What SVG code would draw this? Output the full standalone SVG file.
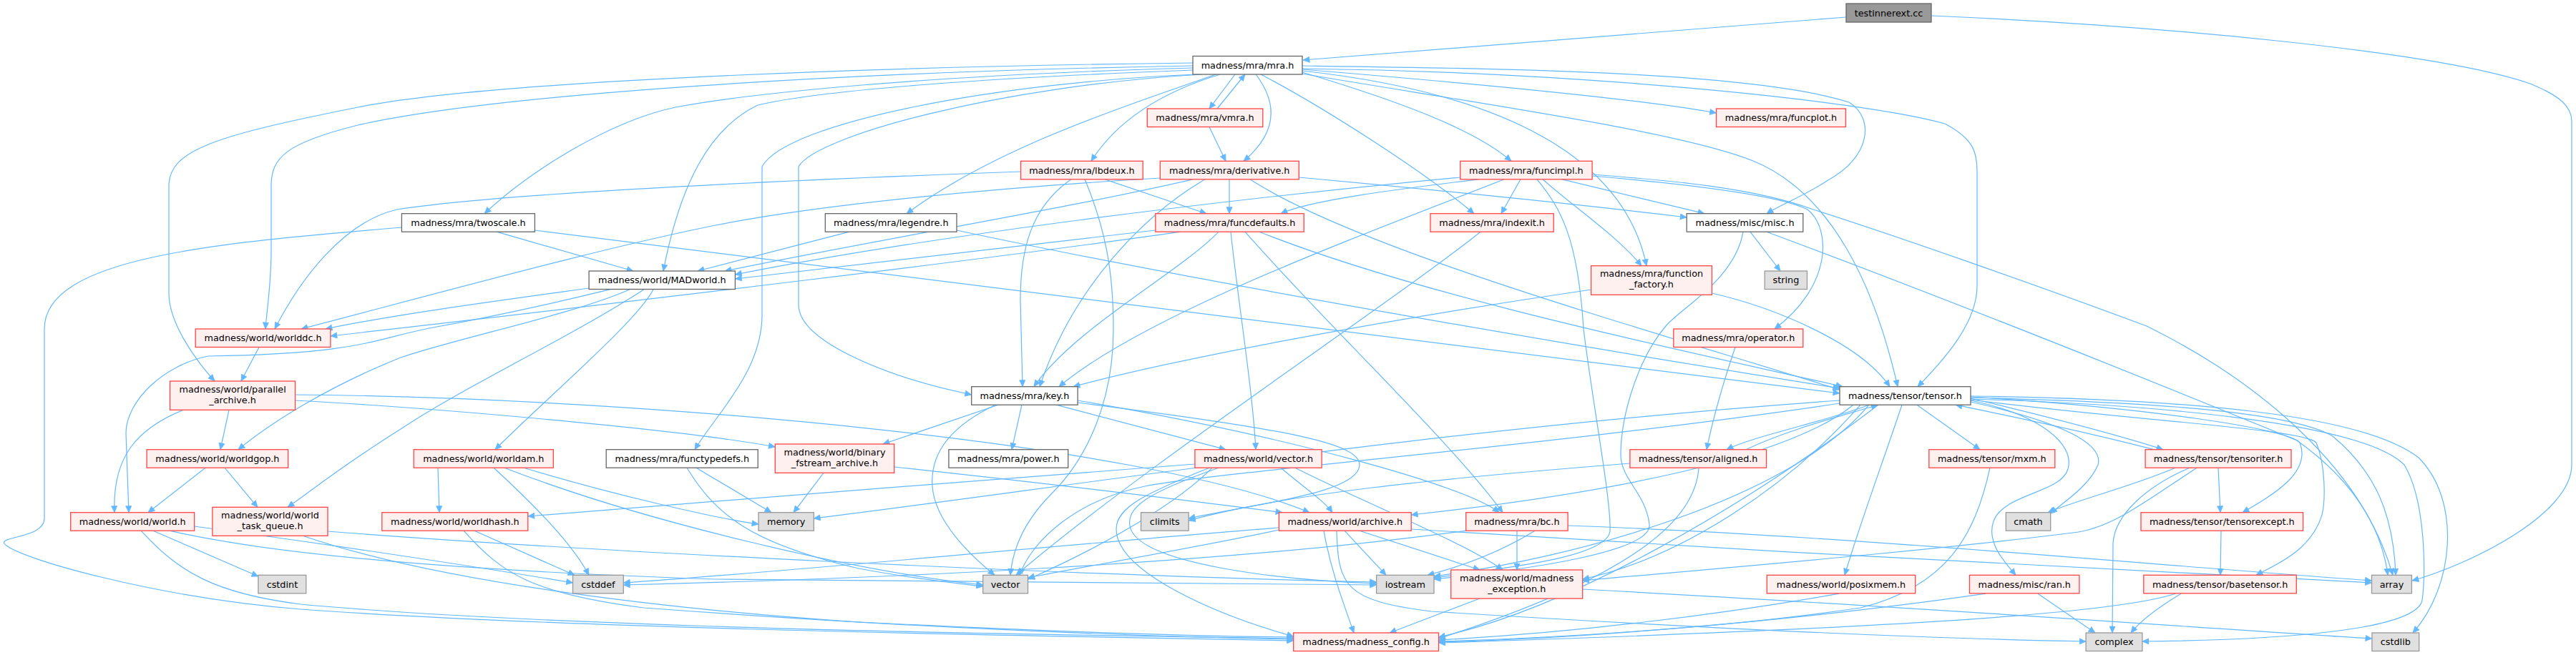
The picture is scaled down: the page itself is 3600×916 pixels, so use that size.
<svg xmlns="http://www.w3.org/2000/svg" width="3600" height="916" viewBox="0 0 3600 916">
<style>
rect{stroke-width:1.3}
.w rect{fill:#fff;stroke:#666}
.r rect{fill:#fff0f0;stroke:#f44}
.g rect{fill:#e0e0e0;stroke:#999}
.k rect{fill:#999;stroke:#666}
text{font-family:"DejaVu Sans",sans-serif;font-size:12.8px;text-anchor:middle;fill:#000}
#edges path{fill:none;stroke:#63b8ff;stroke-width:1.2;marker-end:url(#ah)}
</style>
<defs>
<marker id="ah" viewBox="0 0 10 10" refX="10" refY="5" markerWidth="10" markerHeight="9" markerUnits="userSpaceOnUse" orient="auto"><path d="M0,0.5 L10,5 L0,9.5 z" fill="#63b8ff" stroke="#63b8ff" stroke-width="0.8"/></marker>
</defs>
<rect width="3600" height="916" fill="#fff"/>
<g id="edges">
<path d="M2580,24 L1821,84"/>
<path d="M2699,22 C3000,35 3400,70 3536,117 C3580,135 3594,150 3594,170 L3594,650 C3594,720 3450,790 3371,812"/>
<path d="M1667,88 C1300,92 700,110 500,150 C300,190 236,210 236,260 L236,410 C236,450 270,500 300,533"/>
<path d="M1667,92 C1200,100 700,130 500,175 C400,200 379,220 379,260 L379,350 C379,400 372,440 371,460"/>
<path d="M1667,95 C1300,105 1050,130 944,150 C850,170 740,240 677,298.7"/>
<path d="M1667,98 C1400,108 1150,125 1059,147 C990,180 950,260 927,379"/>
<path d="M1672,104 C1400,115 1100,170 1065,233 L1065,440 C1065,520 1000,580 971,628.7"/>
<path d="M1680,104 C1400,120 1140,190 1116,233 L1116,426 C1116,480 1250,530 1357.7,552"/>
<path d="M1699,104 C1600,140 1400,200 1267,298.7"/>
<path d="M1705,104 C1620,130 1560,170 1525,225.3"/>
<path d="M1726,104 L1690,152"/>
<path d="M1701,152 L1740,104"/>
<path d="M1755,104 C1790,150 1780,190 1738,225.3"/>
<path d="M1690,177.5 L1713,225.3"/>
<path d="M1762,104 C1850,150 1990,240 2060,298.7"/>
<path d="M1820,101 C1950,140 2060,180 2112,225.3"/>
<path d="M1820,99 C2100,130 2270,220 2301,371.7"/>
<path d="M1820,92 C2100,96 2450,100 2584,143 C2620,165 2615,220 2553,253 C2520,275 2490,285 2469,298.7"/>
<path d="M1820,96 C2200,100 2600,140 2718,173 C2760,195 2763,215 2763,240 L2763,400 C2763,450 2720,500 2680,540.7"/>
<path d="M1820,97 C2100,120 2300,140 2398.5,158"/>
<path d="M1819,103 C2100,150 2350,185 2450,225 C2560,270 2620,400 2652,540.7"/>
<path d="M2225,246 C2330,255 2480,270 2526,293 C2560,320 2560,400 2480,460"/>
<path d="M2225,244 C2330,252 2450,262 2534,293 C2650,330 2850,400 3000,456 C3150,530 3300,650 3344,804.3"/>
<path d="M1426.5,240 C1100,252 700,270 555,293 C480,310 420,390 384,460"/>
<path d="M1497,250.8 C1440,290 1426,350 1426,420 L1429,540.7"/>
<path d="M1516,250.8 C1545,320 1556,380 1556,460 C1556,560 1520,640 1470,690 C1430,730 1415,770 1412,804.3"/>
<path d="M1544,250.8 L1686,298.7"/>
<path d="M1621.3,249 C1400,262 1150,285 1000,315 C850,345 650,400 421,460"/>
<path d="M1667,250.8 C1500,290 1200,340 1013,379"/>
<path d="M1684,250.8 C1600,300 1500,400 1453,540.7"/>
<path d="M1718,250.8 L1718,298.7"/>
<path d="M1747,250.8 C1900,350 2300,460 2571,545"/>
<path d="M1815.3,248 C2000,265 2200,285 2357.2,304"/>
<path d="M2040.7,248 C1700,280 1300,330 1027.4,384"/>
<path d="M2066,250.8 C1950,265 1830,280 1790,298.7"/>
<path d="M2102,250.8 C1900,330 1600,440 1480,540.7"/>
<path d="M2125,250.8 L2098,298.7"/>
<path d="M2148,250.8 C2180,290 2205,330 2213,460 C2225,560 2252,700 2250,743 C2245,780 2100,795 2004,808"/>
<path d="M2156,250.8 C2200,290 2260,330 2294,371.7"/>
<path d="M2183,250.8 L2382,298.7"/>
<path d="M694,324.2 L885,379"/>
<path d="M747.3,322 C1200,380 1800,450 2571,550"/>
<path d="M561.4,318 C300,340 62,360 62,460 L62,725 C62,752 0,750 6,760 C20,780 220,836 420,852 C800,880 1500,890 1807.7,896"/>
<path d="M1187,324.2 L975,379"/>
<path d="M1337,322 C1700,400 2300,500 2571,543"/>
<path d="M1614.8,322 C1400,345 1200,370 1027.4,390"/>
<path d="M1650,324.2 C1400,360 900,420 461.9,470"/>
<path d="M1703,324.2 C1650,380 1500,460 1445,540.7"/>
<path d="M1720,324.2 C1730,420 1750,540 1755,628.7"/>
<path d="M1740,324.2 C1850,450 2030,620 2100,716.7"/>
<path d="M1760,324.2 C2000,420 2400,500 2575,540.7"/>
<path d="M2069,324.2 C1950,420 1600,650 1420,804.3"/>
<path d="M2446,324.2 L2488,379"/>
<path d="M2436,324.2 C2425,390 2350,430 2328,456 C2290,500 2265,580 2265,636 C2265,670 2300,690 2305,733 C2310,770 2150,795 2004,810"/>
<path d="M2469,324.2 C2700,410 3000,530 3210,616 C3300,680 3330,750 3337,804.3"/>
<path d="M2223.6,405 C1950,445 1650,500 1500,540.7"/>
<path d="M2392.4,410 C2480,430 2600,480 2641,540.7"/>
<path d="M823.1,403 C700,420 550,440 455,460"/>
<path d="M853,404.7 C750,430 650,450 600,459 C520,475 500,495 291,498 C230,510 176,560 176,606 L180,716.7"/>
<path d="M880,404.7 C800,440 650,470 560,500 C460,540 380,590 333,628.7"/>
<path d="M913,404.7 C890,450 760,560 692,628.7"/>
<path d="M900,404.7 C800,470 650,540 560,600 C480,650 430,690 402,709.3"/>
<path d="M362,485.5 L337,533"/>
<path d="M320,573.3 L308,628.7"/>
<path d="M256,573.3 C190,600 157,640 160,716.7"/>
<path d="M412.5,560 C600,570 950,600 1083.3,625"/>
<path d="M412.5,552 C900,556 1600,620 1830,716.7"/>
<path d="M287,654.2 L207,716.7"/>
<path d="M314,654.2 L360,709.3"/>
<path d="M214,742.2 L360.9,806"/>
<path d="M197,742.2 C250,800 300,830 420,845 C800,880 1500,888 1807.7,893"/>
<path d="M237,742.2 C400,780 700,800 1000,810 C1400,815 1700,818 1923.6,818"/>
<path d="M271.7,736 C450,760 650,790 800.5,815"/>
<path d="M423,749.3 C600,810 900,850 1200,870 C1500,885 1700,890 1807.7,891"/>
<path d="M458,743 C800,770 1500,805 1923.6,814"/>
<path d="M612,654.2 L614,716.7"/>
<path d="M690,654.2 C740,700 800,760 823,804.3"/>
<path d="M732,654.2 C850,690 1000,725 1060,733"/>
<path d="M705,654.2 C900,730 1200,800 1373.7,818"/>
<path d="M663,742.2 L803,804.3"/>
<path d="M648,742.2 C700,800 740,830 900,850 C1300,880 1600,890 1807.7,894"/>
<path d="M973,654.2 L1078,716.7"/>
<path d="M960,654.2 C1000,720 1050,760 1200,795 C1280,810 1330,815 1373.7,820"/>
<path d="M1151,661.3 L1109,716.7"/>
<path d="M1249.7,653 C1500,680 1700,705 1792,716.7"/>
<path d="M1395,566.2 L1234,621"/>
<path d="M1391,566.2 C1320,600 1300,640 1303,680 C1306,730 1360,780 1390,804.3"/>
<path d="M1428,566.2 L1414,628.7"/>
<path d="M1476,566.2 L1713,628.7"/>
<path d="M1506,560 C1800,610 2050,680 2095,716.7"/>
<path d="M1506,563 C1800,600 1900,620 1900,650 C1900,690 1750,705 1661.1,725"/>
<path d="M1669.9,649 C1400,670 1000,700 737.8,722"/>
<path d="M1694,654.2 C1650,700 1550,760 1437,810"/>
<path d="M1790,654.2 C1820,680 1850,700 1862,716.7"/>
<path d="M1690,654.2 C1600,690 1560,710 1560,740 C1560,800 1700,860 1807.7,890"/>
<path d="M1703,654.2 C1600,690 1575,710 1579,736 C1590,790 1800,812 1923.6,816"/>
<path d="M1810,654.2 C1900,700 2050,760 2100,797"/>
<path d="M2440,628.7 C2500,600 2580,580 2624,566.2"/>
<path d="M2612,566.2 C2550,590 2450,610 2413,628.7"/>
<path d="M2374,654.2 C2370,720 2300,800 2010.5,893"/>
<path d="M2277.9,648 C2000,670 1800,690 1661.1,728"/>
<path d="M2781,654.2 C2760,750 2720,820 2600,850 C2400,880 2150,893 2010.5,897"/>
<path d="M3100,654.2 L3103,716.7"/>
<path d="M3010,628.7 C2900,600 2800,580 2733,566.2"/>
<path d="M3060,654.2 C3000,680 2955,720 2953,760 L2952,885"/>
<path d="M3040,654.2 C2980,680 2900,700 2862,716.7"/>
<path d="M3070,654.2 C3000,700 2950,740 2897,745 C2700,770 2400,795 2211.7,812"/>
<path d="M3104,742.2 L3103,804.3"/>
<path d="M2679,566.2 L2767,628.7"/>
<path d="M2658,566.2 C2630,650 2600,730 2578,804.3"/>
<path d="M2754,560 C2850,580 2900,620 2890,656 C2880,690 2800,690 2786,729 C2775,760 2805,790 2817,804.3"/>
<path d="M2754,562 C2880,590 2940,620 2932,650 C2920,680 2880,705 2865.7,718"/>
<path d="M2754,557 C2850,580 2950,605 3023,628.7"/>
<path d="M2754,555 C3000,570 3200,600 3214,619 C3230,660 3180,690 3134,716.7"/>
<path d="M2754,559 C3000,590 3220,600 3237,619 C3250,650 3250,700 3245,720 C3230,770 3180,790 3153,804.3"/>
<path d="M2754,556 C3000,562 3200,575 3260,610 C3320,660 3345,720 3348,804.3"/>
<path d="M2754,554 C3050,558 3300,578 3380,640 C3440,700 3430,820 3372,885"/>
<path d="M2754,558 C3000,565 3300,590 3360,650 C3390,700 3390,800 3385,840 C3375,880 3200,895 2993.9,897"/>
<path d="M2590,566.2 C2500,640 2250,690 1972.2,720"/>
<path d="M2612,566.2 C2500,700 2200,780 2004,806"/>
<path d="M2625,566.2 C2450,700 2200,850 2010.5,891"/>
<path d="M2600,566.2 C2500,680 2350,780 2211.7,810"/>
<path d="M2571,560 C2000,600 1500,680 1137.3,725"/>
<path d="M2571,564 C2200,620 1700,660 1600,680 C1500,700 1440,760 1425,804.3"/>
<path d="M1879,742.2 L1937,804.3"/>
<path d="M1900,742.2 L2068,797"/>
<path d="M1868,742.2 C1870,820 1880,840 2000,855 C2400,880 2700,893 2915.1,897"/>
<path d="M1850,742.2 C1860,800 1880,850 1892,885"/>
<path d="M1972.2,740 C2400,768 3000,800 3314.5,815"/>
<path d="M1787.4,738 C1500,760 1100,800 871.3,815"/>
<path d="M1787.4,741 C1650,770 1500,795 1436.5,808"/>
<path d="M2145,742.2 C2100,770 2050,790 1995,804.3"/>
<path d="M2120,742.2 L2120,797"/>
<path d="M2191.1,735 C2600,750 3000,790 3314.5,812"/>
<path d="M2049,742.2 C1700,790 1200,810 871.3,818"/>
<path d="M2068,837 L1942,885"/>
<path d="M2211.7,824 C2700,850 3100,880 3314.9,893"/>
<path d="M2570,830.2 C2400,860 2200,885 2010.5,895"/>
<path d="M2848,830.2 L2928,885"/>
<path d="M2775,830.2 C2500,870 2200,893 2010.5,898"/>
<path d="M3040,830.2 C2950,860 2600,880 2010.5,899"/>
<path d="M3048,830.2 C3015,850 2990,870 2978,885"/>
<path d="M2425,485.5 C2410,530 2395,580 2385,628.7"/>
</g>
<g id="n_root" class="k"><rect x="2580" y="5" width="119" height="26"/><text x="2639.5" y="22.5">testinnerext.cc</text></g>
<g id="n_mra" class="w"><rect x="1667" y="78.5" width="153" height="25.5"/><text x="1743.5" y="95.7">madness/mra/mra.h</text></g>
<g id="n_vmra" class="r"><rect x="1603.3" y="152" width="161.5" height="25.5"/><text x="1684" y="169.2">madness/mra/vmra.h</text></g>
<g id="n_funcplot" class="r"><rect x="2398.5" y="152" width="181" height="25.5"/><text x="2489" y="169.2">madness/mra/funcplot.h</text></g>
<g id="n_lbdeux" class="r"><rect x="1426.5" y="225.3" width="170.7" height="25.5"/><text x="1511.9" y="242.5">madness/mra/lbdeux.h</text></g>
<g id="n_derivative" class="r"><rect x="1621.3" y="225.3" width="194" height="25.5"/><text x="1718.3" y="242.5">madness/mra/derivative.h</text></g>
<g id="n_funcimpl" class="r"><rect x="2040.7" y="225.3" width="184.4" height="25.5"/><text x="2132.9" y="242.5">madness/mra/funcimpl.h</text></g>
<g id="n_twoscale" class="w"><rect x="561.4" y="298.7" width="186" height="25.5"/><text x="654.4" y="315.9">madness/mra/twoscale.h</text></g>
<g id="n_legendre" class="w"><rect x="1153.3" y="298.7" width="183.7" height="25.5"/><text x="1245.2" y="315.9">madness/mra/legendre.h</text></g>
<g id="n_funcdefaults" class="r"><rect x="1614.8" y="298.7" width="207.4" height="25.5"/><text x="1718.5" y="315.9">madness/mra/funcdefaults.h</text></g>
<g id="n_indexit" class="r"><rect x="1999" y="298.7" width="172.2" height="25.5"/><text x="2085.1" y="315.9">madness/mra/indexit.h</text></g>
<g id="n_misc" class="w"><rect x="2357.2" y="298.7" width="162.6" height="25.5"/><text x="2438.5" y="315.9">madness/misc/misc.h</text></g>
<g id="n_MADworld" class="w"><rect x="823.1" y="379" width="204.3" height="25.5"/><text x="925.3" y="396.2">madness/world/MADworld.h</text></g>
<g id="n_function_factory" class="r"><rect x="2223.6" y="371.7" width="168.8" height="40.6"/><text x="2308" y="387.2">madness/mra/function</text><text x="2308" y="402.2">_factory.h</text></g>
<g id="n_string" class="g"><rect x="2466.2" y="379" width="59.3" height="25.5"/><text x="2495.9" y="396.2">string</text></g>
<g id="n_worlddc" class="r"><rect x="273.2" y="460" width="188.7" height="25.5"/><text x="367.6" y="477.2">madness/world/worlddc.h</text></g>
<g id="n_operator" class="r"><rect x="2338.8" y="460" width="181" height="25.5"/><text x="2429.3" y="477.2">madness/mra/operator.h</text></g>
<g id="n_parallel_archive" class="r"><rect x="237.6" y="533" width="174.9" height="40.3"/><text x="325.1" y="548.5">madness/world/parallel</text><text x="325.1" y="563.5">_archive.h</text></g>
<g id="n_key" class="w"><rect x="1357.7" y="540.7" width="148.4" height="25.5"/><text x="1431.9" y="557.9">madness/mra/key.h</text></g>
<g id="n_tensor" class="w"><rect x="2571" y="540.7" width="183" height="25.5"/><text x="2662.5" y="557.9">madness/tensor/tensor.h</text></g>
<g id="n_worldgop" class="r"><rect x="205.1" y="628.7" width="197.5" height="25.5"/><text x="303.9" y="645.9">madness/world/worldgop.h</text></g>
<g id="n_worldam" class="r"><rect x="578.2" y="628.7" width="195.1" height="25.5"/><text x="675.8" y="645.9">madness/world/worldam.h</text></g>
<g id="n_functypedefs" class="w"><rect x="847.2" y="628.7" width="212" height="25.5"/><text x="953.2" y="645.9">madness/mra/functypedefs.h</text></g>
<g id="n_binary_fstream_archive" class="r"><rect x="1083.3" y="621" width="166.4" height="40.3"/><text x="1166.5" y="636.5">madness/world/binary</text><text x="1166.5" y="651.5">_fstream_archive.h</text></g>
<g id="n_power" class="w"><rect x="1325.9" y="628.7" width="166.8" height="25.5"/><text x="1409.3" y="645.9">madness/mra/power.h</text></g>
<g id="n_world_vector" class="r"><rect x="1669.9" y="628.7" width="177.2" height="25.5"/><text x="1758.5" y="645.9">madness/world/vector.h</text></g>
<g id="n_aligned" class="r"><rect x="2277.9" y="628.7" width="190.6" height="25.5"/><text x="2373.2" y="645.9">madness/tensor/aligned.h</text></g>
<g id="n_mxm" class="r"><rect x="2695.8" y="628.7" width="176" height="25.5"/><text x="2783.8" y="645.9">madness/tensor/mxm.h</text></g>
<g id="n_tensoriter" class="r"><rect x="2998.1" y="628.7" width="203.9" height="25.5"/><text x="3100.1" y="645.9">madness/tensor/tensoriter.h</text></g>
<g id="n_world" class="r"><rect x="98.7" y="716.7" width="173" height="25.5"/><text x="185.2" y="733.9">madness/world/world.h</text></g>
<g id="n_world_task_queue" class="r"><rect x="296.9" y="709.3" width="161.1" height="40"/><text x="377.5" y="724.8">madness/world/world</text><text x="377.5" y="739.8">_task_queue.h</text></g>
<g id="n_worldhash" class="r"><rect x="533.8" y="716.7" width="204" height="25.5"/><text x="635.8" y="733.9">madness/world/worldhash.h</text></g>
<g id="n_memory" class="g"><rect x="1060" y="716.7" width="77.3" height="25.5"/><text x="1098.7" y="733.9">memory</text></g>
<g id="n_climits" class="g"><rect x="1594.5" y="716.7" width="66.6" height="25.5"/><text x="1627.8" y="733.9">climits</text></g>
<g id="n_archive" class="r"><rect x="1787.4" y="716.7" width="184.8" height="25.5"/><text x="1879.8" y="733.9">madness/world/archive.h</text></g>
<g id="n_bc" class="r"><rect x="2048.7" y="716.7" width="142.4" height="25.5"/><text x="2119.9" y="733.9">madness/mra/bc.h</text></g>
<g id="n_cmath" class="g"><rect x="2803.3" y="716.7" width="62.4" height="25.5"/><text x="2834.5" y="733.9">cmath</text></g>
<g id="n_tensorexcept" class="r"><rect x="2992" y="716.7" width="226.5" height="25.5"/><text x="3105.3" y="733.9">madness/tensor/tensorexcept.h</text></g>
<g id="n_cstdint" class="g"><rect x="360.9" y="804.3" width="66.9" height="25.5"/><text x="394.4" y="821.5">cstdint</text></g>
<g id="n_cstddef" class="g"><rect x="800.5" y="804.3" width="70.8" height="25.5"/><text x="835.9" y="821.5">cstddef</text></g>
<g id="n_vector" class="g"><rect x="1373.7" y="804.3" width="62.8" height="25.5"/><text x="1405.1" y="821.5">vector</text></g>
<g id="n_iostream" class="g"><rect x="1923.6" y="804.3" width="80.4" height="25.5"/><text x="1963.8" y="821.5">iostream</text></g>
<g id="n_madness_exception" class="r"><rect x="2027.7" y="797" width="184" height="40"/><text x="2119.7" y="812.5">madness/world/madness</text><text x="2119.7" y="827.5">_exception.h</text></g>
<g id="n_posixmem" class="r"><rect x="2469.3" y="804.3" width="207.4" height="25.5"/><text x="2573" y="821.5">madness/world/posixmem.h</text></g>
<g id="n_ran" class="r"><rect x="2752.4" y="804.3" width="153.5" height="25.5"/><text x="2829.2" y="821.5">madness/misc/ran.h</text></g>
<g id="n_basetensor" class="r"><rect x="2995.8" y="804.3" width="213.5" height="25.5"/><text x="3102.6" y="821.5">madness/tensor/basetensor.h</text></g>
<g id="n_array" class="g"><rect x="3314.5" y="804.3" width="55.9" height="25.5"/><text x="3342.5" y="821.5">array</text></g>
<g id="n_madness_config" class="r"><rect x="1807.7" y="885" width="202.8" height="25.5"/><text x="1909.1" y="902.2">madness/madness_config.h</text></g>
<g id="n_complex" class="g"><rect x="2915.1" y="885" width="78.8" height="25.5"/><text x="2954.5" y="902.2">complex</text></g>
<g id="n_cstdlib" class="g"><rect x="3314.9" y="885" width="65.8" height="25.5"/><text x="3347.8" y="902.2">cstdlib</text></g>
</svg>
